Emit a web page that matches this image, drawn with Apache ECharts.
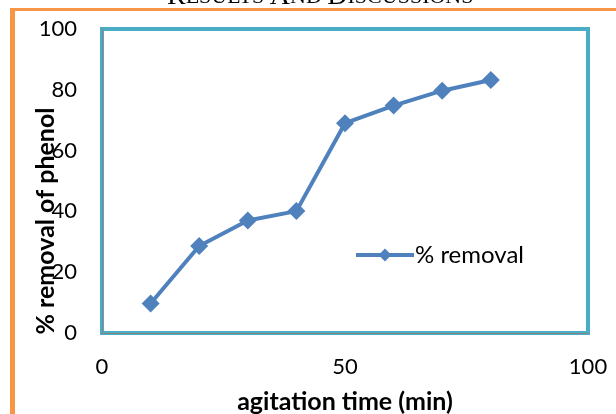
<!DOCTYPE html>
<html><head><meta charset="utf-8">
<script src="https://cdn.jsdelivr.net/npm/echarts@6/dist/echarts.min.js"></script>
<style>html,body{margin:0;padding:0;background:#fff}#c{width:616px;height:414px}</style>
</head><body><div id="c"></div>
<script>
const times = [10, 20, 30, 40, 50, 60, 70, 80];
const removal = [9.7, 28.6, 37.0, 40.1, 69.0, 74.8, 79.7, 83.2];
const seriesName = '% removal';
const xTitle = 'agitation time (min)';
const yTitle = '% removal of phenol';
const headingParts = [['R', 'ESULTS'], ['A', 'ND'], ['D', 'ISCUSSIONS']];

const headingRich = headingParts.map(p => '{b|' + p[0] + '}{s|' + p[1] + '}').join('{s| }');

const chart = echarts.init(document.getElementById('c'), null, {renderer: 'canvas'});
const font = 'Lato, "Open Sans", sans-serif';
chart.setOption({
  animation: false,
  backgroundColor: '#fff',
  graphic: [
    {type: 'rect', shape: {x: 10, y: 8, width: 5, height: 420}, style: {fill: '#F79646'}, z: 0},
    {type: 'rect', shape: {x: 10, y: 8, width: 620, height: 3}, style: {fill: '#F79646'}, z: 0},
    {type: 'text', x: 167, y: 11, style: {text: headingRich, verticalAlign: 'bottom', fill: '#000',
      rich: {b: {fontFamily: '"Liberation Serif", serif', fontSize: 28, fill: '#000'},
             s: {fontFamily: '"Liberation Serif", serif', fontSize: 22, fill: '#000'}}}}
  ],
  grid: {left: 102, right: 28, top: 29, bottom: 81, show: true, borderColor: '#4BACC6', borderWidth: 4,
         backgroundColor: '#fff', outerBoundsMode: 'none', containLabel: false},
  legend: {
    show: true, left: 349, top: 238, itemWidth: 58, itemHeight: 16, itemGap: 0,
    lineStyle: {width: 4, color: '#4F81BD'},
    textStyle: {fontFamily: font, fontSize: 24, color: '#000', padding: [0,0,0,-4]},
    data: [seriesName]
  },
  xAxis: {
    type: 'value', min: 0, max: 100, interval: 50,
    name: xTitle, nameLocation: 'middle', nameGap: 56, nameMoveOverlap: false,
    nameTextStyle: {fontFamily: font, fontSize: 25, fontWeight: 'bold', color: '#000'},
    axisLine: {show: true, lineStyle: {color: '#868686', width: 1}},
    axisTick: {show: false},
    splitLine: {show: false},
    axisLabel: {fontFamily: font, fontSize: 22, color: '#000', margin: 23}
  },
  yAxis: {
    type: 'value', min: 0, max: 100, interval: 20,
    name: yTitle, nameLocation: 'middle', nameGap: 44, nameRotate: 90, nameMoveOverlap: false,
    nameTextStyle: {fontFamily: font, fontSize: 25, fontWeight: 'bold', color: '#000', padding: [0, 80, 0, 0]},
    axisLine: {show: true, lineStyle: {color: '#868686', width: 1}},
    axisTick: {show: false},
    splitLine: {show: false},
    axisLabel: {fontFamily: font, fontSize: 22, color: '#000', margin: 25}
  },
  series: [{
    name: seriesName, type: 'line',
    data: times.map((t, i) => [t, removal[i]]),
    symbol: 'diamond', symbolSize: 18,
    lineStyle: {color: '#4F81BD', width: 4},
    itemStyle: {color: '#4F81BD'}
  }]
});
</script></body></html>
